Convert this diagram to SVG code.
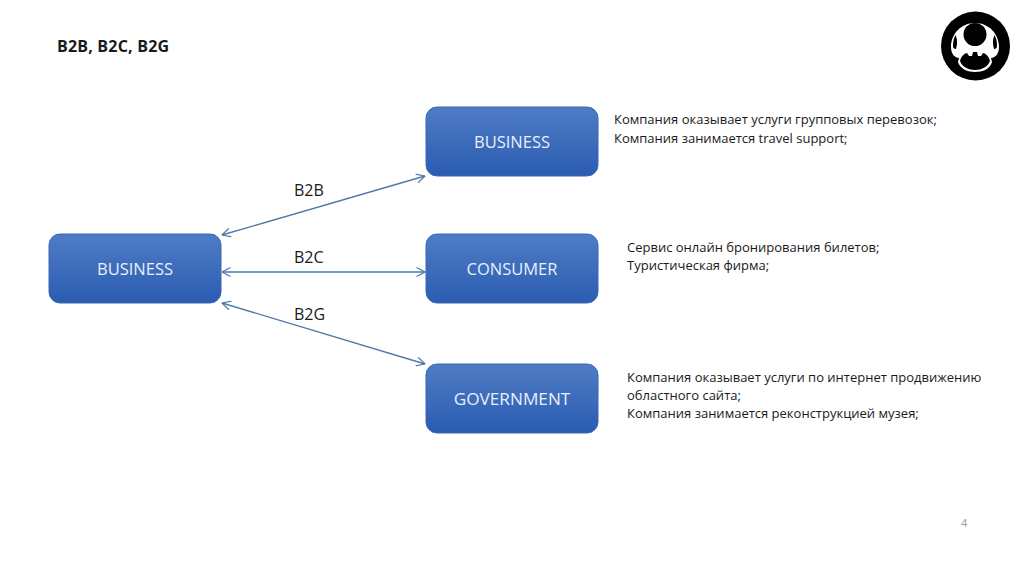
<svg xmlns="http://www.w3.org/2000/svg" width="1024" height="574" viewBox="0 0 1024 574">
<style>
text{font-family:"Open Sans","Liberation Sans",sans-serif}
.box{fill:url(#g);stroke:#3a68b4;stroke-width:1}
.nl{font-size:16.5px;fill:#e8f0fa;text-anchor:middle}
.el{font-size:16px;fill:#1a1a1a}
.d{font-size:13px;fill:#1a1a1a}
.c{fill:none;stroke:#4e79a8;stroke-width:1.4;marker-start:url(#a);marker-end:url(#a)}
</style>
<defs>
<linearGradient id="g" x1="0" y1="0" x2="0" y2="1"><stop offset="0" stop-color="#4f7cc4"/><stop offset="1" stop-color="#2b5cb2"/></linearGradient>
<marker id="a" viewBox="0 0 10 10" refX="9.5" refY="5" markerWidth="10" markerHeight="10" markerUnits="userSpaceOnUse" orient="auto-start-reverse"><path d="M1 0.5L9.5 5L1 9.5" fill="none" stroke="#4e79a8" stroke-width="1.2"/></marker>
</defs>
<rect width="1024" height="574" fill="#fff"/>
<text x="57" y="52" font-size="16" font-weight="700" fill="#1a1a1a" letter-spacing="0.2">B2B, B2C, B2G</text>
<g id="logo">
<circle cx="975.5" cy="46" r="34.5" fill="#000"/>
<path d="M975 23C961 23 951 34 951 47C951 54 955 58 959 58L958 62C960 69 968 72 975 72C983 72 990 69 992 62L991 58C995 58 999 54 999 47C999 34 989 23 975 23Z" fill="#fff"/>
<circle cx="975" cy="34.5" r="11.5" fill="#000"/>
<path d="M953 46C953 41 954 38 955.500 35C957.500 39 957.500 44 956 49C954 49 953 48 953 46Z" fill="#000"/>
<path d="M997 46C997 41 996 38 994.500 35C992.500 39 992.500 44 994 49C996 49 997 48 997 46Z" fill="#000"/>
<path d="M960 61C961 56 965 53 967 53L969 56L972 56L973 52L977 52L978 56L981 56L983 53C985 53 989 56 990 61C988 67 981 70 975 70C969 70 962 67 960 61Z" fill="#000"/>
</g>
<g id="connectors">
<line class="c" x1="222" y1="235" x2="425" y2="176"/>
<line class="c" x1="222" y1="272" x2="425" y2="272"/>
<line class="c" x1="222" y1="303" x2="425" y2="364"/>
</g>
<text class="el" x="294" y="196">B2B</text>
<text class="el" x="294" y="263">B2C</text>
<text class="el" x="294" y="320">B2G</text>
<g id="business-left"><rect class="box" x="49" y="234" width="172" height="69" rx="11"/><text class="nl" x="135" y="275">BUSINESS</text></g>
<g id="business-top"><rect class="box" x="426" y="107" width="172" height="69" rx="11"/><text class="nl" x="512" y="148">BUSINESS</text></g>
<g id="consumer"><rect class="box" x="426" y="234" width="172" height="69" rx="11"/><text class="nl" x="512" y="275">CONSUMER</text></g>
<g id="government"><rect class="box" x="426" y="364" width="172" height="69" rx="11"/><text class="nl" x="512" y="405" style="font-size:17.2px">GOVERNMENT</text></g>
<text class="d" x="614" y="124">Компания оказывает услуги групповых перевозок;</text>
<text class="d" x="614" y="143">Компания занимается travel support;</text>
<text class="d" x="627" y="252">Сервис онлайн бронирования билетов;</text>
<text class="d" x="627" y="270">Туристическая фирма;</text>
<text class="d" x="627" y="382">Компания оказывает услуги по интернет продвижению</text>
<text class="d" x="627" y="400">областного сайта;</text>
<text class="d" x="627" y="418">Компания занимается реконструкцией музея;</text>
<text x="961" y="527" font-size="11" fill="#999">4</text>
</svg>
